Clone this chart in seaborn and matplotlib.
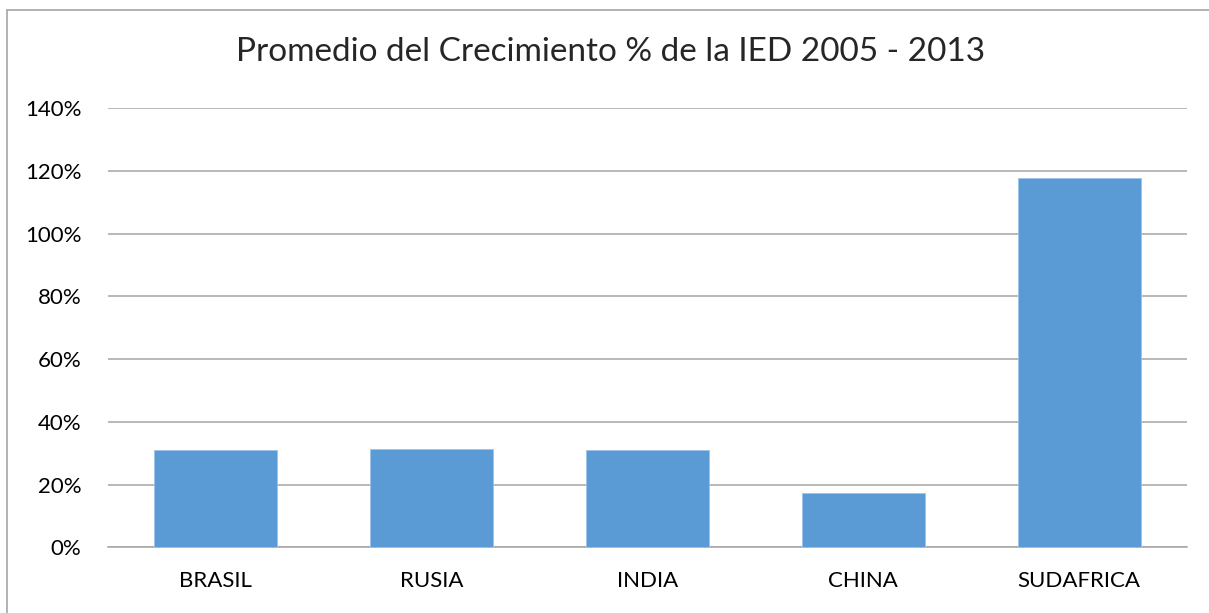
import numpy as np
import pandas as pd
import matplotlib
matplotlib.use("Agg")
import matplotlib.pyplot as plt
from matplotlib.ticker import PercentFormatter
from matplotlib.lines import Line2D
import seaborn as sns

paises = ["BRASIL", "RUSIA", "INDIA", "CHINA", "SUDAFRICA"]
crecimiento = [0.310, 0.313, 0.311, 0.173, 1.177]
y_ticks = [0, 0.2, 0.4, 0.6, 0.8, 1.0, 1.2, 1.4]

df = pd.DataFrame({"pais": paises, "crecimiento": crecimiento})

sns.set_theme(style="white")
plt.rcParams["font.family"] = ["Lato", "DejaVu Sans"]

fig = plt.figure(figsize=(12.09, 6.13), dpi=100)
ax = fig.add_axes([108 / 1209, 1 - 547.3 / 613, (1187 - 108) / 1209, (547.3 - 108) / 613])

sns.barplot(data=df, x="pais", y="crecimiento", color="#5B9BD5", saturation=1,
            width=0.57, edgecolor="#9DC3E6", linewidth=0.6, ax=ax, zorder=3)

ax.set_ylim(0, 1.4)
ax.set_yticks(y_ticks)
ax.yaxis.set_major_formatter(PercentFormatter(1.0, decimals=0))
ax.grid(axis="y", color="#A6A6A6", linewidth=1.1, zorder=0)
ax.set_xlabel("")
ax.set_ylabel("")
for s in ["top", "right", "left"]:
    ax.spines[s].set_visible(False)
ax.spines["bottom"].set_color("#A6A6A6")
ax.spines["bottom"].set_linewidth(1.1)
ax.tick_params(axis="both", length=0, labelsize=16, colors="black")
ax.tick_params(axis="y", pad=19)
ax.tick_params(axis="x", pad=17)

fig.text(611 / 1209, 1 - 52 / 613, "Promedio del Crecimiento % de la IED 2005 - 2013",
         ha="center", va="center", fontsize=24)

# chart frame (top and left edges only visible)
fig.add_artist(Line2D([7 / 1209, 1], [1 - 9.5 / 613, 1 - 9.5 / 613], color="#A6A6A6", linewidth=1.2))
fig.add_artist(Line2D([7 / 1209, 7 / 1209], [0, 1 - 9.5 / 613], color="#A6A6A6", linewidth=1.2))

fig.savefig("out.png", dpi=100)
